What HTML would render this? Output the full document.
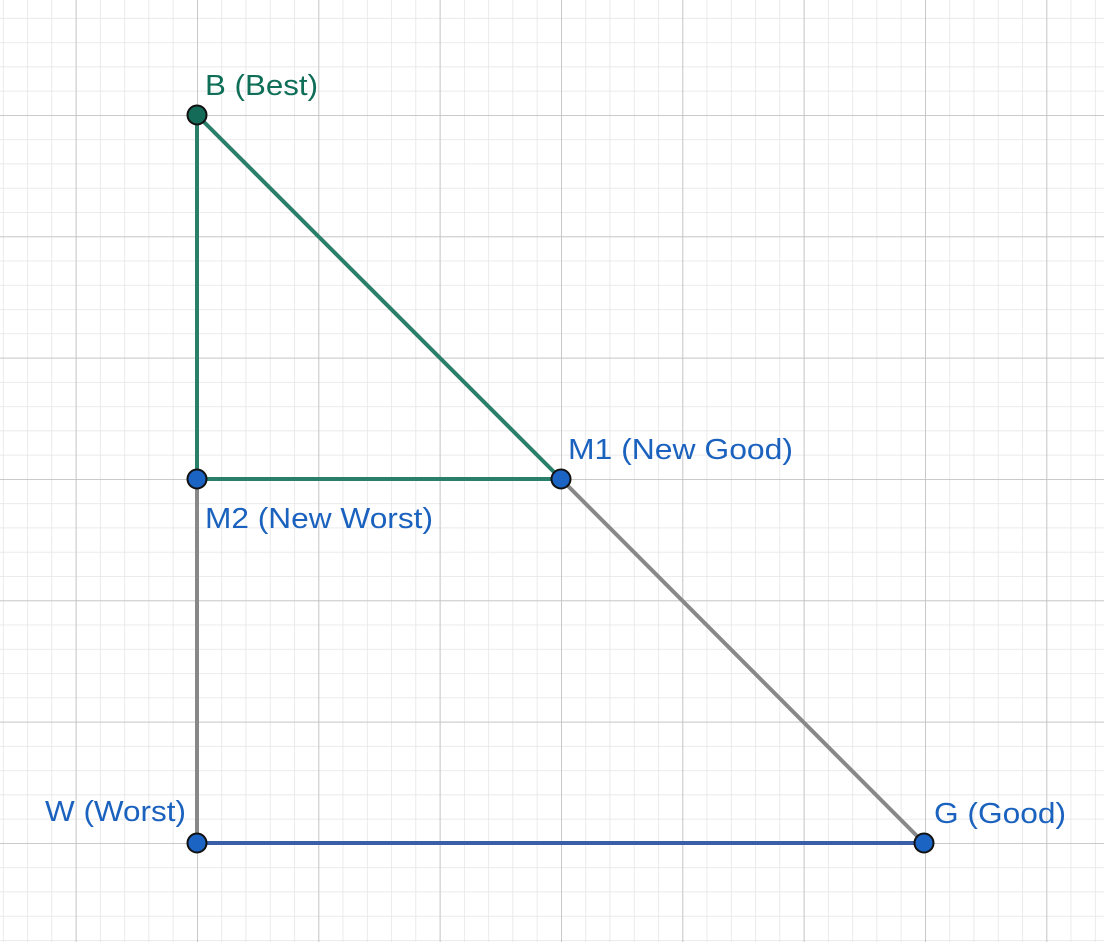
<!DOCTYPE html>
<html><head><meta charset="utf-8"><style>
html,body{margin:0;padding:0;background:#fff}
svg{display:block}
text{font-family:"Liberation Sans",Arial,sans-serif;font-size:29px}
</style></head><body>
<svg width="1104" height="942" viewBox="0 0 1104 942" xmlns="http://www.w3.org/2000/svg">
<defs>
<pattern id="minor" patternUnits="userSpaceOnUse" x="197" y="115" width="24.2667" height="24.2667">
<path d="M0 0 H24.2667 M0 0 V24.2667" stroke="#e4e4e4" stroke-width="1.5" fill="none"/>
</pattern>
<pattern id="major" patternUnits="userSpaceOnUse" x="197" y="115" width="121.333" height="121.333">
<path d="M0 0 H121.333 M0 0 V121.333" stroke="#c4c4c4" stroke-width="1.8" fill="none"/>
</pattern>
</defs>
<rect width="1104" height="942" fill="#fff"/>
<rect width="1104" height="942" fill="url(#minor)"/>
<rect width="1104" height="942" fill="url(#major)"/>
<g stroke-width="4" stroke-linecap="round">
<line x1="197" y1="479" x2="197" y2="843" stroke="#888"/>
<line x1="561" y1="479" x2="924" y2="843" stroke="#888"/>
<line x1="197" y1="843" x2="924" y2="843" stroke="#3a5fa8"/>
<line x1="197" y1="115" x2="197" y2="479" stroke="#2a7f6b"/>
<line x1="197" y1="115" x2="561" y2="479" stroke="#2a7f6b"/>
<line x1="197" y1="479" x2="561" y2="479" stroke="#2a7f6b"/>
</g>
<g stroke="#111" stroke-width="2">
<circle cx="197" cy="115" r="9.5" fill="#146b57"/>
<circle cx="197" cy="479" r="9.5" fill="#1b64c4"/>
<circle cx="561" cy="479" r="9.5" fill="#1b64c4"/>
<circle cx="197" cy="843" r="9.5" fill="#1b64c4"/>
<circle cx="924" cy="843" r="9.5" fill="#1b64c4"/>
</g>
<text x="205" y="95" fill="#0e6e57" textLength="113" lengthAdjust="spacingAndGlyphs">B (Best)</text>
<text x="568" y="459" fill="#1a62be" textLength="225" lengthAdjust="spacingAndGlyphs">M1 (New Good)</text>
<text x="205" y="528" fill="#1a62be" textLength="228" lengthAdjust="spacingAndGlyphs">M2 (New Worst)</text>
<text x="45" y="821" fill="#1a62be" textLength="141" lengthAdjust="spacingAndGlyphs">W (Worst)</text>
<text x="934" y="823" fill="#1a62be" textLength="132" lengthAdjust="spacingAndGlyphs">G (Good)</text>
</svg>
</body></html>
